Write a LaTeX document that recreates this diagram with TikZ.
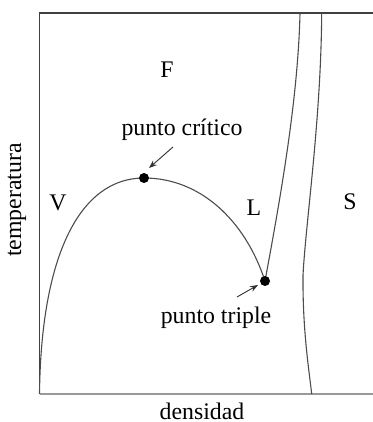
\documentclass[tikz,border=0pt]{standalone}
\usepackage{fontspec}
\setmainfont{Liberation Serif}
\usetikzlibrary{arrows.meta}
\begin{document}
\begin{tikzpicture}[x=0.5pt,y=-0.5pt,
  axis/.style={line width=0.6pt,draw=black!75},
  axisb/.style={line width=0.8pt,draw=black!40},
  curve/.style={line width=0.55pt,draw=black!70},
  dot/.style={circle,fill=black,inner sep=0pt,minimum size=5pt},
  lbl/.style={font=\fontsize{11.9}{13}\selectfont,inner sep=0pt},
  pointer/.style={line width=0.45pt,draw=black!80,-{Stealth[length=4pt,width=3pt]}}]
\useasboundingbox (0,0) rectangle (373,422);
% frame
\coordinate (o) at (39.5,394);
\coordinate (tl) at (39.5,13);
\coordinate (tr) at (373,13);
\coordinate (br) at (373,394);
\draw[axis] (o) -- (tl) -- (tr);
\draw[axisb] (o) -- (br);
% key points
\coordinate (c) at (144,178);
\coordinate (t) at (265,281);
% coexistence curve
\draw[curve] (o) .. controls (41,255) and (80,178) .. (c);
\draw[curve] (c) .. controls (200,178) and (245,220) .. (t);
% melting lines
\coordinate (m1) at (300,13);
\draw[curve] (t) .. controls (280,200) and (298,100) .. (m1);
\coordinate (s1) at (321.7,13);
\coordinate (sk) at (303,275);
\coordinate (s2) at (311.7,394);
\draw[curve] (s1) .. controls (321,120) and (306,220) .. (sk)
  .. controls (302.5,330) and (309,370) .. (s2);
% dots
\node[dot] (cd) at (c) {};
\node[dot] (td) at (t) {};
% labels
\node[lbl] (F) at (167,70) {F};
\node[lbl] (V) at (58,203) {V};
\node[lbl] (L) at (254,208) {L};
\node[lbl] (S) at (350,202) {S};
\node[lbl] (pc) at (182,130) {punto crítico};
\node[lbl] (pt) at (216,318) {punto triple};
\node[lbl,rotate=90] (yl) at (17,200) {temperatura};
\node[lbl] (xl) at (202,411) {densidad};
% pointers
\coordinate (a1) at (173,147);
\coordinate (a2) at (149,168);
\coordinate (b1) at (237,297);
\coordinate (b2) at (258,285);
\draw[pointer] (a1) -- (a2);
\draw[pointer] (b1) -- (b2);
\end{tikzpicture}
\end{document}
